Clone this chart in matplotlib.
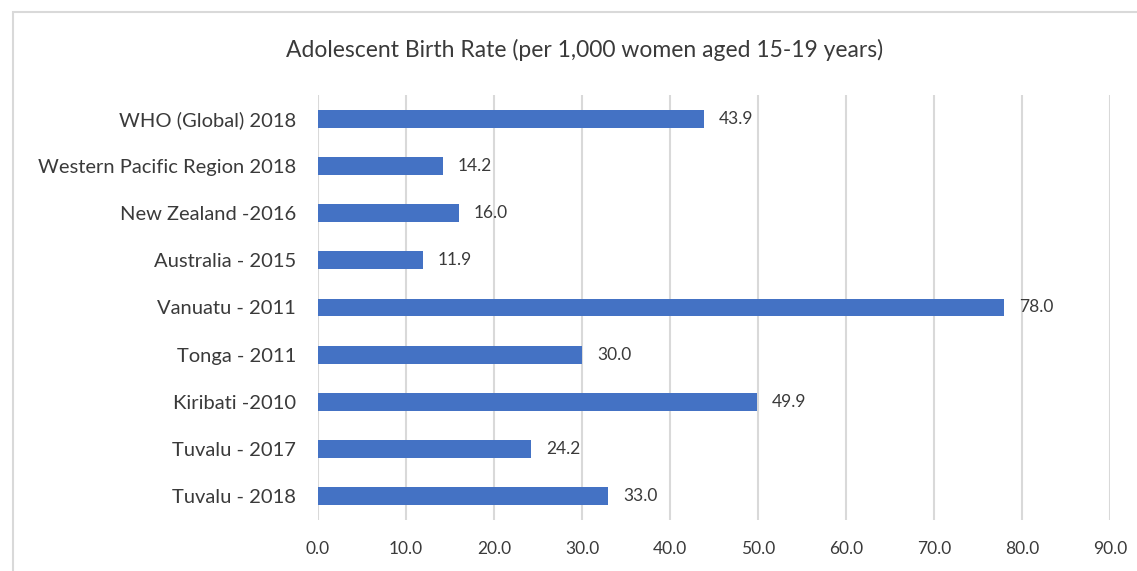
import matplotlib.pyplot as plt
from matplotlib.patches import Rectangle

labels = ['WHO (Global) 2018', 'Western Pacific Region 2018', 'New Zealand -2016',
          'Australia - 2015', 'Vanuatu - 2011', 'Tonga - 2011', 'Kiribati -2010',
          'Tuvalu - 2017', 'Tuvalu - 2018']
values = [43.9, 14.2, 16.0, 11.9, 78.0, 30.0, 49.9, 24.2, 33.0]
xticks = [0, 10, 20, 30, 40, 50, 60, 70, 80, 90]

plt.rcParams['font.family'] = ['Lato', 'DejaVu Sans']
text_color = '#3a3a3a'

figure = plt.figure(figsize=(11.37, 5.71), dpi=100)
figure.patches.append(Rectangle((13 / 1137, -0.1), 1.2, 1 - 12 / 571 + 0.1,
                                transform=figure.transFigure, fill=False,
                                edgecolor='#d9d9d9', linewidth=1.5))
axis = figure.add_axes([318 / 1137, 51 / 571, 792 / 1137, 425 / 571])

y = list(range(len(labels)))
axis.barh(y, values, height=0.38, color='#4472C4', zorder=3)
for i, v in zip(y, values):
    axis.text(v + 1.7, i, '{:.1f}'.format(v), va='center', ha='left',
              fontsize=12.5, color=text_color, zorder=4)

axis.set_ylim(len(labels) - 0.5, -0.5)
axis.set_xlim(0, 90)
axis.set_yticks(y)
axis.set_yticklabels(labels)
axis.set_xticks(xticks)
axis.set_xticklabels(['{:.1f}'.format(t) for t in xticks])
axis.tick_params(axis='y', length=0, pad=16, labelsize=14.5, labelcolor=text_color)
axis.tick_params(axis='x', length=0, pad=15, labelsize=12.5, labelcolor=text_color)
axis.grid(axis='x', color='#d9d9d9', linewidth=1.5, zorder=0)
for side in axis.spines.values():
    side.set_visible(False)

figure.text(585 / 1137, 1 - 50 / 571, 'Adolescent Birth Rate (per 1,000 women aged 15-19 years)',
            ha='center', va='center', fontsize=16.5, color=text_color)

figure.savefig('out.png', dpi=100, facecolor='white')
